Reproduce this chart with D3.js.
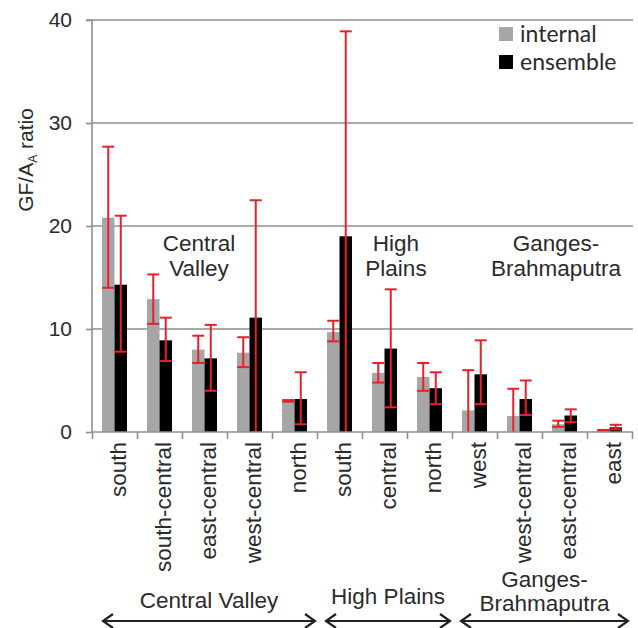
<!DOCTYPE html>
<html>
<head>
<meta charset="utf-8">
<script src="https://cdn.jsdelivr.net/npm/d3@7/dist/d3.min.js"></script>
<style>
  body { margin: 0; background: #fff; }
  text { font-family: "Liberation Sans", Arial, sans-serif; fill: #2b2b2b; }
</style>
</head>
<body>
<svg id="chart"></svg>
<script>
var categories = ['south', 'south-central', 'east-central', 'west-central', 'north',
    'south', 'central', 'north',
    'west', 'west-central', 'east-central', 'east'];

var internal   = [20.8, 12.9, 8.0, 7.7, 3.05, 9.7, 5.75, 5.35, 2.1, 1.55, 0.75, 0.15];
var internalLo = [14.0, 10.5, 6.7, 6.3, 2.95, 8.8, 4.8, 4.0, 0, 0, 0.5, 0.12];
var internalHi = [27.7, 15.3, 9.35, 9.2, 3.1, 10.8, 6.7, 6.7, 6.0, 4.2, 1.1, 0.2];

var ensemble   = [14.3, 8.9, 7.15, 11.1, 3.2, 19.0, 8.1, 4.25, 5.6, 3.2, 1.6, 0.45];
var ensembleLo = [7.8, 6.9, 4.0, 0, 0.75, 0, 2.4, 2.7, 2.7, 1.65, 0.95, 0.25];
var ensembleHi = [21.0, 11.1, 10.4, 22.5, 5.8, 38.9, 13.85, 5.8, 8.9, 5.0, 2.2, 0.7];

var yTicks = [0, 10, 20, 30, 40];

// regions: first and last category index, label lines
var groups = [
    {name: ['Central', 'Valley'], bottom: ['Central Valley'], from: 0, to: 5, labelX: 199, baseY: 608},
    {name: ['High', 'Plains'], bottom: ['High Plains'], from: 5, to: 8, labelX: 396, baseY: 604},
    {name: ['Ganges-', 'Brahmaputra'], bottom: ['Ganges-', 'Brahmaputra'], from: 8, to: 12, labelX: 556, baseY: 611}
];

var chartWidth = 638,
    chartHeight = 628,
    plotLeft = 92,
    plotRight = 632,
    plotTop = 20,
    plotBottom = 432,
    red = '#e8202a',
    gridColor = '#8f8f8f';

var svg = d3.select('svg#chart')
    .attr('width', chartWidth)
    .attr('height', chartHeight);

var x = d3.scaleBand()
    .domain(d3.range(categories.length))
    .range([plotLeft, plotRight])
    .padding(0);

var xEdge = d3.scaleLinear()
    .domain([0, categories.length])
    .range([plotLeft, plotRight]);

var xSub = d3.scaleBand()
    .domain(['internal', 'ensemble'])
    .range([0, x.bandwidth()])
    .paddingInner(0)
    .paddingOuter(0.8);

var y = d3.scaleLinear()
    .domain([0, 40])
    .range([plotBottom, plotTop]);

// gridlines
svg.append('g')
    .selectAll('line')
    .data(yTicks.filter(function(d) { return d > 0; }))
    .enter().append('line')
    .attr('x1', plotLeft)
    .attr('x2', plotRight + 1)
    .attr('y1', function(d) { return y(d); })
    .attr('y2', function(d) { return y(d); })
    .attr('stroke', gridColor)
    .attr('stroke-width', 1.6);

// bars
var series = [
    {key: 'internal', values: internal, lo: internalLo, hi: internalHi, color: '#a6a6a6'},
    {key: 'ensemble', values: ensemble, lo: ensembleLo, hi: ensembleHi, color: '#000000'}
];

series.forEach(function(s) {
    svg.append('g')
        .selectAll('rect')
        .data(s.values)
        .enter().append('rect')
        .attr('x', function(d, i) { return x(i) + xSub(s.key); })
        .attr('width', xSub.bandwidth())
        .attr('y', function(d) { return y(d); })
        .attr('height', function(d) { return y(0) - y(d); })
        .attr('fill', s.color);
});

// error bars
series.forEach(function(s) {
    var g = svg.append('g')
        .attr('stroke', red)
        .attr('stroke-width', 2);
    s.values.forEach(function(v, i) {
        var cx = x(i) + xSub(s.key) + xSub.bandwidth() / 2;
        g.append('line')
            .attr('x1', cx).attr('x2', cx)
            .attr('y1', y(s.lo[i])).attr('y2', y(s.hi[i]));
        g.append('line')
            .attr('x1', cx - 6).attr('x2', cx + 6)
            .attr('y1', y(s.hi[i])).attr('y2', y(s.hi[i]));
        if (s.lo[i] > 0) {
            g.append('line')
                .attr('x1', cx - 6).attr('x2', cx + 6)
                .attr('y1', y(s.lo[i])).attr('y2', y(s.lo[i]));
        }
    });
});

// y axis
var yAxis = svg.append('g')
    .attr('transform', 'translate(' + plotLeft + ',0)')
    .call(d3.axisLeft(y).tickValues(yTicks).tickSize(6).tickPadding(14));
yAxis.selectAll('line, path').attr('stroke', gridColor).attr('stroke-width', 1.6);
yAxis.select('path').attr('d', 'M-6,' + plotTop + 'H0V' + plotBottom);
yAxis.selectAll('text')
    .style('font-size', '21px')
    .style('font-family', '"Liberation Sans", Arial, sans-serif')
    .attr('fill', '#2b2b2b');

// x axis, ticks on category edges
var xAxis = svg.append('g')
    .attr('transform', 'translate(0,' + plotBottom + ')')
    .call(d3.axisBottom(xEdge).tickValues(d3.range(categories.length + 1)).tickFormat('').tickSize(7));
xAxis.selectAll('line, path').attr('stroke', gridColor).attr('stroke-width', 1.6);
xAxis.select('path').attr('d', 'M' + plotLeft + ',0H' + (plotRight + 1));

// category labels
svg.append('g')
    .selectAll('text')
    .data(categories)
    .enter().append('text')
    .attr('transform', function(d, i) {
        return 'translate(' + (x(i) + x.bandwidth() / 2) + ',' + (plotBottom + 10) + ') rotate(-90)';
    })
    .attr('dy', 11)
    .attr('text-anchor', 'end')
    .style('font-size', '22.5px')
    .text(function(d) { return d; });

// y title
var yTitle = svg.append('text')
    .attr('transform', 'translate(33,160) rotate(-90)')
    .attr('text-anchor', 'middle')
    .style('font-size', '21px');
yTitle.append('tspan').text('GF/A');
yTitle.append('tspan').attr('dy', 4).style('font-size', '12px').text('A');
yTitle.append('tspan').attr('dy', -4).text(' ratio');

// region names inside plot
groups.forEach(function(g) {
    g.name.forEach(function(line, j) {
        svg.append('text')
            .attr('x', g.labelX)
            .attr('y', 251 + j * 25)
            .attr('text-anchor', 'middle')
            .style('font-size', '22.5px')
            .text(line);
    });
});

// region arrows below
var arrowY = 621;
var arrows = svg.append('g')
    .attr('stroke', '#222')
    .attr('stroke-width', 2.2)
    .attr('fill', 'none');
groups.forEach(function(g) {
    var x1 = xEdge(g.from) + (g.from === 0 ? 11 : 9),
        x2 = xEdge(g.to) - (g.to === categories.length ? 4 : 2);
    arrows.append('path')
        .attr('d', 'M' + x1 + ',' + arrowY + 'H' + x2 +
            'M' + (x1 + 10) + ',' + (arrowY - 7) + 'L' + x1 + ',' + arrowY + 'L' + (x1 + 10) + ',' + (arrowY + 7) +
            'M' + (x2 - 10) + ',' + (arrowY - 7) + 'L' + x2 + ',' + arrowY + 'L' + (x2 - 10) + ',' + (arrowY + 7));
    var cx = (x1 + x2) / 2;
    var n = g.bottom.length;
    g.bottom.forEach(function(line, j) {
        svg.append('text')
            .attr('x', cx)
            .attr('y', g.baseY - (n - 1 - j) * 24)
            .attr('text-anchor', 'middle')
            .style('font-size', '22.5px')
            .text(line);
    });
});

// legend
var legend = svg.append('g').attr('transform', 'translate(499,27)');
series.forEach(function(s, i) {
    legend.append('rect')
        .attr('x', 0)
        .attr('y', i * 28)
        .attr('width', 14)
        .attr('height', 14)
        .attr('fill', s.color);
    legend.append('text')
        .attr('x', 21)
        .attr('y', i * 28 + 15)
        .style('font-family', 'Lato, "Open Sans", sans-serif')
        .style('font-size', '23px')
        .text(s.key);
});
</script>
</body>
</html>
